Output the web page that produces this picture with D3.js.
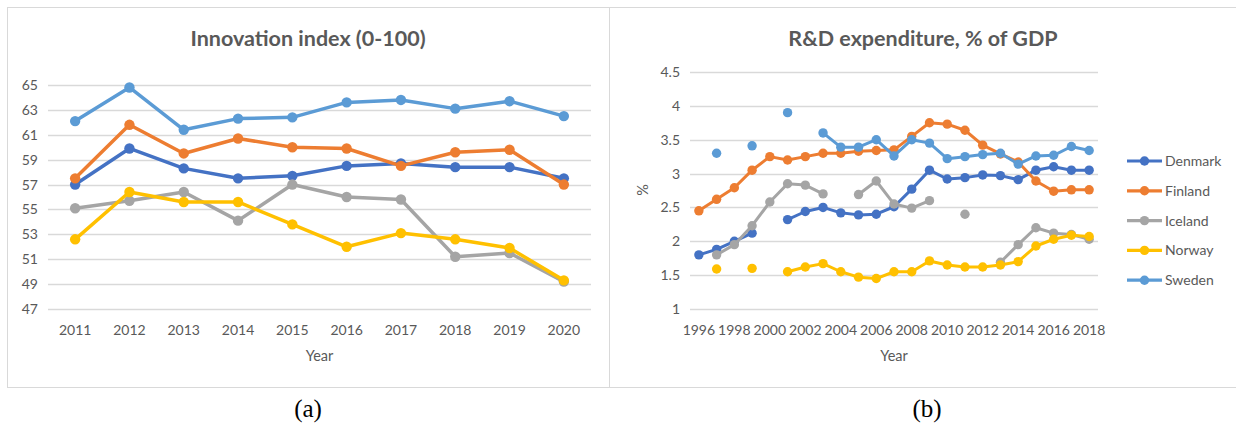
<!DOCTYPE html>
<html>
<head>
<meta charset="utf-8">
<script src="https://cdn.jsdelivr.net/npm/d3@7"></script>
<style>
  body { margin: 0; background: #fff; }
  svg text { font-family: Lato, "Open Sans", sans-serif; fill: #595959; }
</style>
</head>
<body>
<div id="chart"></div>
<script>
// ---- data ----
const countries = ["Denmark", "Finland", "Iceland", "Norway", "Sweden"];
const colors = ["#4472C4", "#ED7D31", "#A5A5A5", "#FFC000", "#5B9BD5"];

const yearsA = [2011, 2012, 2013, 2014, 2015, 2016, 2017, 2018, 2019, 2020];
const innoDenmark = [57.0, 59.9, 58.3, 57.5, 57.7, 58.5, 58.7, 58.4, 58.4, 57.5];
const innoFinland = [57.5, 61.8, 59.5, 60.7, 60.0, 59.9, 58.5, 59.6, 59.8, 57.0];
const innoIceland = [55.1, 55.7, 56.4, 54.1, 57.0, 56.0, 55.8, 51.2, 51.5, 49.2];
const innoNorway  = [52.6, 56.4, 55.6, 55.6, 53.8, 52.0, 53.1, 52.6, 51.9, 49.3];
const innoSweden  = [62.1, 64.8, 61.4, 62.3, 62.4, 63.6, 63.8, 63.1, 63.7, 62.5];
const ticksA = [47, 49, 51, 53, 55, 57, 59, 61, 63, 65];

const yearsB = d3.range(1996, 2019);
const rdDenmark = [1.80, 1.88, 2.00, 2.12, null, 2.32, 2.44, 2.50, 2.42, 2.39, 2.40, 2.51, 2.77, 3.05, 2.92, 2.94, 2.98, 2.97, 2.91, 3.05, 3.10, 3.05, 3.05];
const rdFinland = [2.45, 2.62, 2.79, 3.05, 3.25, 3.20, 3.25, 3.30, 3.30, 3.33, 3.34, 3.35, 3.55, 3.75, 3.73, 3.64, 3.42, 3.29, 3.17, 2.89, 2.74, 2.76, 2.76];
const rdIceland = [null, 1.80, 1.95, 2.23, 2.58, 2.85, 2.83, 2.70, null, 2.69, 2.89, 2.55, 2.49, 2.60, null, 2.40, null, 1.69, 1.95, 2.20, 2.12, 2.10, 2.03];
const rdNorway  = [null, 1.59, null, 1.60, null, 1.55, 1.62, 1.67, 1.55, 1.47, 1.45, 1.55, 1.55, 1.71, 1.65, 1.62, 1.62, 1.65, 1.70, 1.93, 2.03, 2.09, 2.07];
const rdSweden  = [null, 3.30, null, 3.41, null, 3.90, null, 3.60, 3.39, 3.39, 3.50, 3.26, 3.50, 3.45, 3.22, 3.25, 3.28, 3.30, 3.14, 3.26, 3.27, 3.40, 3.34];
const ticksB = [1, 1.5, 2, 2.5, 3, 3.5, 4, 4.5];
const ticksBx = d3.range(1996, 2019, 2);

const seriesA = [innoDenmark, innoFinland, innoIceland, innoNorway, innoSweden];
const seriesB = [rdDenmark, rdFinland, rdIceland, rdNorway, rdSweden];

const svg = d3.select("#chart").append("svg")
  .attr("width", 1236).attr("height", 425);

// panel frames
svg.append("rect").attr("x", 7.5).attr("y", 7.5).attr("width", 602).attr("height", 380)
  .attr("fill", "none").attr("stroke", "#d9d9d9");
svg.append("rect").attr("x", 609.5).attr("y", 7.5).attr("width", 640).attr("height", 380)
  .attr("fill", "none").attr("stroke", "#d9d9d9");

function panel(opt) {
  const x = d3.scaleBand().domain(opt.years).range([opt.x0, opt.x1]);
  const y = d3.scaleLinear().domain(opt.yDomain).range([opt.yBottom, opt.yTop]);
  const g = svg.append("g");

  g.append("text")
    .attr("x", opt.titleX).attr("y", 46)
    .attr("text-anchor", "middle")
    .style("font-size", "21.5px").style("font-weight", "bold")
    .text(opt.title);

  // gridlines + y labels
  g.selectAll(".grid").data(opt.yTicks).join("line")
    .attr("x1", opt.x0).attr("x2", opt.x1)
    .attr("y1", d => Math.round(y(d)) + 0.5).attr("y2", d => Math.round(y(d)) + 0.5)
    .attr("stroke", "#d9d9d9").attr("stroke-width", 1.3);
  g.selectAll(".ylab").data(opt.yTicks).join("text")
    .attr("x", opt.x0 - 10).attr("y", d => y(d) + 5)
    .attr("text-anchor", "end")
    .style("font-size", "14px")
    .text(d => d);

  // x labels
  g.selectAll(".xlab").data(opt.xTicks).join("text")
    .attr("x", d => x(d) + x.bandwidth() / 2).attr("y", 335)
    .attr("text-anchor", "middle")
    .style("font-size", "14px")
    .text(d => d);

  g.append("text")
    .attr("x", (opt.x0 + opt.x1) / 2).attr("y", 361)
    .attr("text-anchor", "middle")
    .style("font-size", "14.5px")
    .text("Year");

  const line = d3.line()
    .defined(d => d.v != null)
    .x(d => x(d.year) + x.bandwidth() / 2)
    .y(d => y(d.v));

  opt.series.forEach((vals, i) => {
    const pts = opt.years.map((yr, j) => ({year: yr, v: vals[j]}));
    g.append("path").datum(pts)
      .attr("d", line)
      .attr("fill", "none")
      .attr("stroke", colors[i])
      .attr("stroke-width", opt.lw)
      .attr("stroke-linejoin", "round");
    g.selectAll(".dot" + i).data(pts.filter(d => d.v != null)).join("circle")
      .attr("cx", d => x(d.year) + x.bandwidth() / 2)
      .attr("cy", d => y(d.v))
      .attr("r", opt.r)
      .attr("fill", colors[i]);
  });
  return g;
}

panel({
  title: "Innovation index (0-100)", titleX: 308,
  years: yearsA, series: seriesA, yDomain: [47, 65], yTicks: ticksA, xTicks: yearsA,
  x0: 48, x1: 591, yBottom: 309, yTop: 85, lw: 3.5, r: 5.2
});

const gB = panel({
  title: "R&D expenditure, % of GDP", titleX: 923,
  years: yearsB, series: seriesB, yDomain: [1, 4.5], yTicks: ticksB, xTicks: ticksBx,
  x0: 690, x1: 1098, yBottom: 309, yTop: 72, lw: 3, r: 4.7
});

gB.append("text")
  .attr("transform", "translate(648,190) rotate(-90)")
  .attr("text-anchor", "middle")
  .style("font-size", "14.5px")
  .text("%");

// legend
const leg = svg.append("g").attr("transform", "translate(1127,161)");
countries.forEach((c, i) => {
  const row = leg.append("g").attr("transform", `translate(0,${i * 29.8})`);
  row.append("line").attr("x1", 0).attr("x2", 35).attr("y1", 0).attr("y2", 0)
    .attr("stroke", colors[i]).attr("stroke-width", 3.2);
  row.append("circle").attr("cx", 17.5).attr("cy", 0).attr("r", 4.7).attr("fill", colors[i]);
  row.append("text").attr("x", 38).attr("y", 5).style("font-size", "14px").text(c);
});

// captions
svg.append("text").attr("x", 308).attr("y", 417).attr("text-anchor", "middle")
  .style("font-family", "'Liberation Serif', serif").style("fill", "#000")
  .style("font-size", "25px").text("(a)");
svg.append("text").attr("x", 927).attr("y", 417).attr("text-anchor", "middle")
  .style("font-family", "'Liberation Serif', serif").style("fill", "#000")
  .style("font-size", "25px").text("(b)");
</script>
</body>
</html>
